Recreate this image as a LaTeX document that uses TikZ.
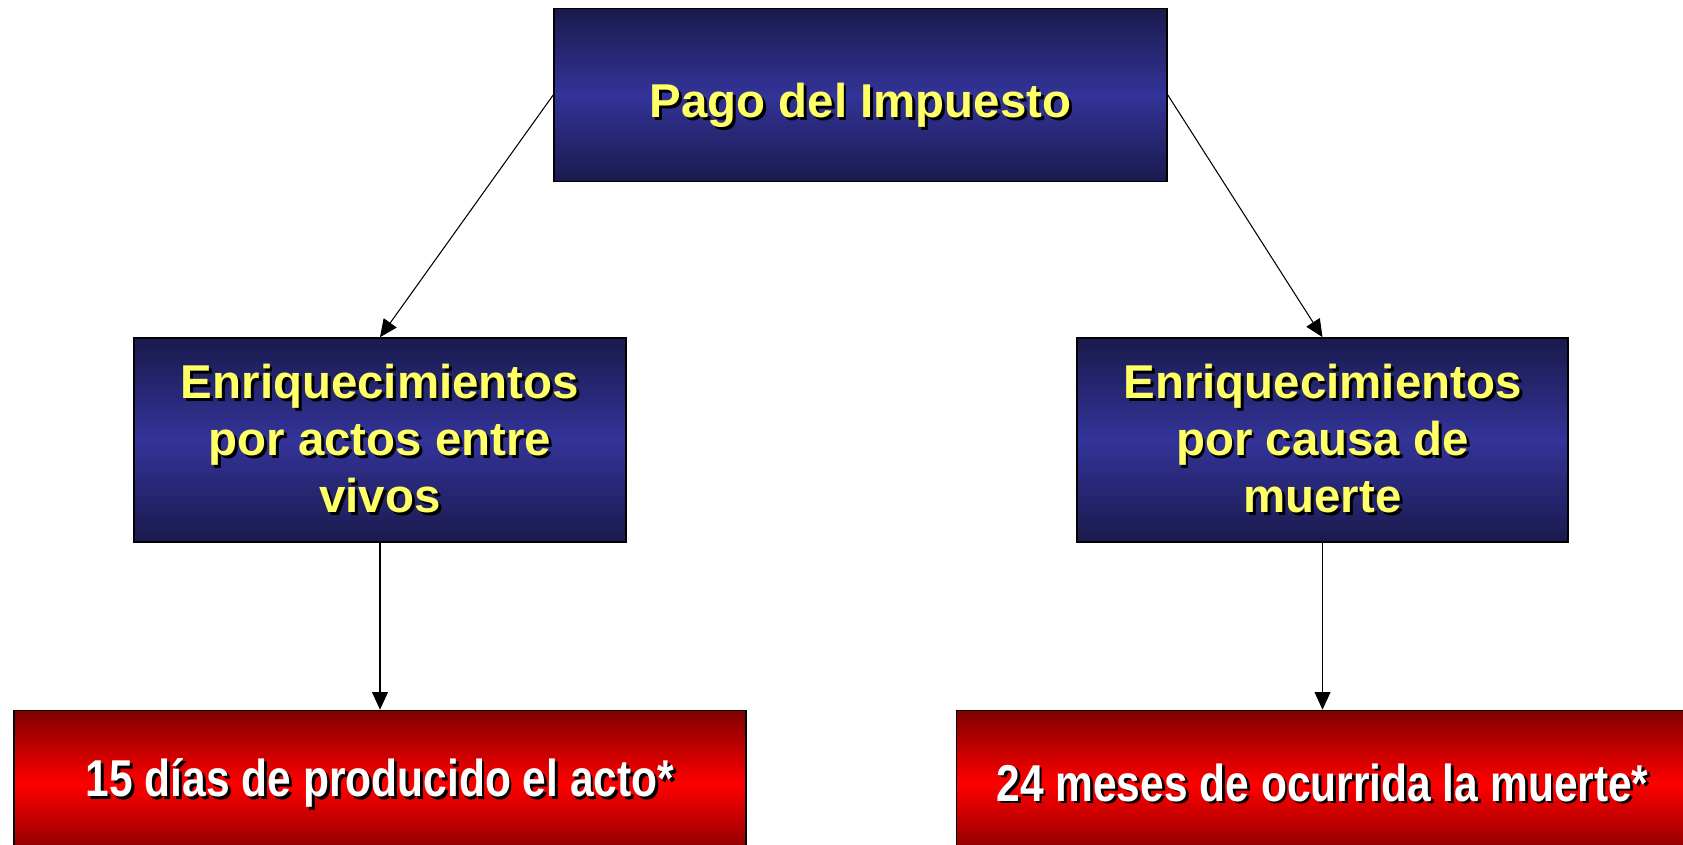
\documentclass[tikz,border=0pt]{standalone}
\usepackage{fontspec}
\setmainfont{Liberation Sans}
\newfontfamily\narrowfont[FakeStretch=0.82]{Liberation Sans}
\usetikzlibrary{arrows.meta,positioning}

\definecolor{boxblue}{HTML}{333399}
\definecolor{boxnavy}{HTML}{1A1A4D}
\definecolor{boxred}{HTML}{FF0000}
\definecolor{boxmaroon}{HTML}{800000}
\definecolor{textyellow}{HTML}{FFFF66}

% text with a dark drop shadow
\newcommand{\shtext}[1]{\rlap{\kern1.6pt\raisebox{-1.6pt}{\color{black}#1}}#1}

\begin{document}
\begin{tikzpicture}[>={Triangle[length=10pt,width=9pt]},node distance=6cm,on grid,
	bluebox/.style={draw=black,line width=0.9pt,top color=boxnavy,bottom color=boxnavy,middle color=boxblue,
		text=textyellow,align=center,font=\bfseries\fontsize{27}{32.5}\selectfont,inner sep=0pt},
	redbox/.style={draw=black,line width=0.9pt,top color=boxmaroon,bottom color=boxmaroon,middle color=boxred,
		text=white,align=center,font=\narrowfont\bfseries\fontsize{29.5}{35}\selectfont,inner sep=0pt,
		minimum width=14.64cm,minimum height=2.94cm},
	link/.style={->,line width=0.6pt}]
		\useasboundingbox (0,0) rectangle (33.66,16.9);
		\node[bluebox, minimum width=12.26cm, minimum height=3.46cm, text height=26pt, text depth=0pt] (pago) at (17.21,15.0) {\shtext{Pago del Impuesto}};
		\node[bluebox, minimum width=9.84cm, minimum height=4.08cm] (vivos) at (7.6,8.1)
			{\shtext{Enriquecimientos}\\\shtext{por actos entre}\\\shtext{vivos}};
		\node[bluebox, minimum width=9.82cm, minimum height=4.08cm] (muerte) at (26.45,8.1)
			{\shtext{Enriquecimientos}\\\shtext{por causa de}\\\shtext{muerte}};
		\node[redbox, below=6.88cm of vivos] (quince) {\shtext{15 días de producido el acto*}};
		\node[redbox, below=6.88cm of muerte] (veinticuatro) {\shtext{24 meses de ocurrida la muerte*}};
		
		\path[link] (pago.west) edge (vivos.north)
		(pago.east) edge (muerte.north)
		(vivos.south) edge (quince.north)
		(muerte.south) edge (veinticuatro.north);
		\end{tikzpicture}
\end{document}
